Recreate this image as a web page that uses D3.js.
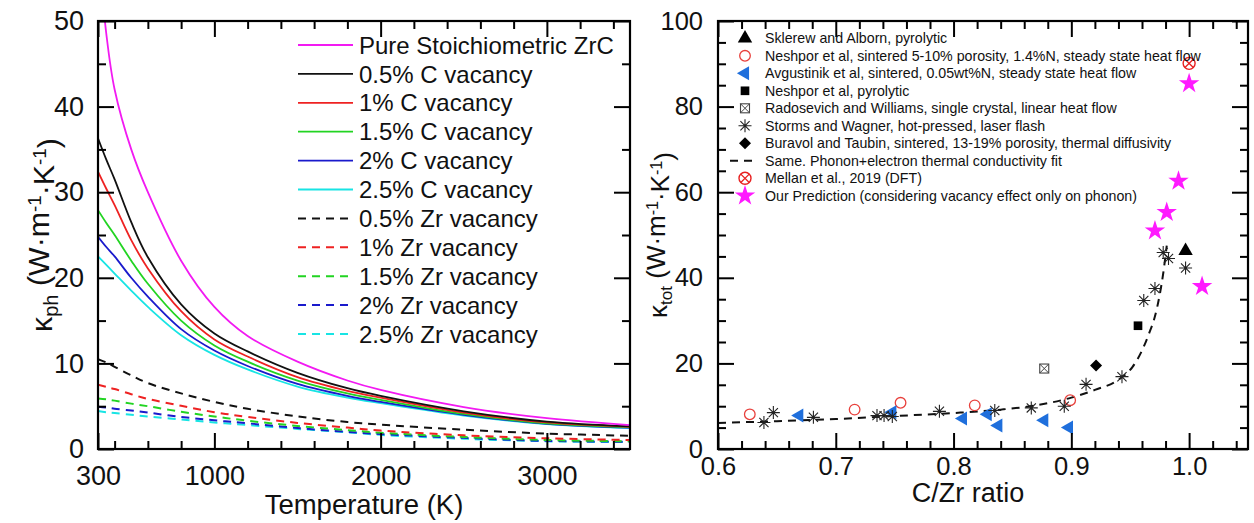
<!DOCTYPE html>
<html><head><meta charset="utf-8">
<script src="https://cdn.jsdelivr.net/npm/d3@7"></script>
<style>
body{margin:0;background:#fff;}
text{font-family:"Liberation Sans",Arial,Helvetica,sans-serif;fill:#111;}
</style></head>
<body>
<svg id="chart" width="1254" height="523"></svg>
<script>
// ---------- Left panel data ----------
const temps = [300,350,400,500,600,800,1000,1200,1500,1800,2000,2500,3000,3500];
const pureZrC = [59,48.5,42,35,30,22,16.6,13.2,10.2,8.0,6.9,4.9,3.6,2.8];
const cVac05 = [36.3,33.8,31.5,26.5,22.4,16.9,13.5,11.4,8.9,7.1,6.2,4.4,3.2,2.65];
const cVac10 = [32.4,30.4,28.5,24.4,21.1,16.1,12.8,10.8,8.4,6.8,6.0,4.25,3.1,2.6];
const cVac15 = [27.9,26.4,25.0,22.0,19.3,15.0,12.1,10.2,8.0,6.5,5.75,4.1,3.0,2.55];
const cVac20 = [24.8,23.6,22.5,20.0,17.8,14.0,11.5,9.7,7.6,6.2,5.5,4.0,2.95,2.5];
const cVac25 = [22.5,21.5,20.5,18.5,16.6,13.3,11.0,9.3,7.3,6.0,5.35,3.9,2.9,2.45];
const zrVac05 = [10.5,10.1,9.6,8.6,7.7,6.5,5.5,4.7,3.8,3.15,2.85,2.25,1.8,1.55];
const zrVac10 = [7.5,7.25,7.0,6.4,5.85,5.05,4.3,3.75,3.05,2.5,2.15,1.6,1.25,1.05];
const zrVac15 = [5.9,5.8,5.65,5.3,5.0,4.35,3.8,3.3,2.7,2.2,1.9,1.4,1.05,0.9];
const zrVac20 = [4.95,4.85,4.7,4.5,4.25,3.75,3.35,3.0,2.45,2.0,1.75,1.3,0.95,0.85];
const zrVac25 = [4.45,4.3,4.2,4.0,3.8,3.45,3.1,2.8,2.35,1.95,1.65,1.2,0.9,0.8];
const leftLabels = ["Pure Stoichiometric ZrC","0.5% C vacancy","1% C vacancy","1.5% C vacancy","2% C vacancy","2.5% C vacancy","0.5% Zr vacancy","1% Zr vacancy","1.5% Zr vacancy","2% Zr vacancy","2.5% Zr vacancy"];
const leftXTicks = [300,1000,2000,3000];
const leftYTicks = [0,10,20,30,40,50];

// ---------- Right panel data ----------
const sklerewX = [0.997], sklerewY = [46.3];
const neshporSintX = [0.627,0.716,0.755,0.818,0.899], neshporSintY = [8.1,9.2,10.8,10.2,11.4];
const avgustinikX = [0.669,0.748,0.808,0.829,0.838,0.877,0.898], avgustinikY = [7.8,8.6,7.1,8.1,5.5,6.7,5.0];
const neshporPyroX = [0.9566], neshporPyroY = [28.8];
const radosevichX = [0.877], radosevichY = [18.8];
const stormsX = [0.639,0.647,0.681,0.735,0.741,0.748,0.788,0.835,0.866,0.894,0.9125,0.943,0.9615,0.971,0.978,0.9825,0.997];
const stormsY = [6.2,8.5,7.4,7.8,7.8,7.6,8.8,9.0,9.6,10.0,15.1,16.9,34.7,37.5,45.9,44.5,42.3];
const buravolX = [0.921], buravolY = [19.5];
const fitX = [0.6,0.65,0.7,0.75,0.8,0.84,0.87,0.9,0.92,0.94,0.952,0.96,0.966,0.971,0.975,0.978,0.981];
const fitY = [6.1,6.5,7.0,7.7,8.4,9.2,10.2,12.0,13.8,16.2,19.2,23.0,27.0,31.0,36.0,41.0,47.5];
const mellanX = [1.0], mellanY = [90.1];
const oursX = [1.0,0.991,0.981,0.971,1.011], oursY = [85.4,62.6,55.3,51.0,38.0];
const rightLabels = ["Sklerew and Alborn, pyrolytic","Neshpor et al, sintered 5-10% porosity, 1.4%N, steady state heat flow","Avgustinik et al, sintered, 0.05wt%N, steady state heat flow","Neshpor et al, pyrolytic","Radosevich and Williams, single crystal, linear heat flow","Storms and Wagner, hot-pressed, laser flash","Buravol and Taubin, sintered, 13-19% porosity, thermal diffusivity","Same. Phonon+electron thermal conductivity fit","Mellan et al., 2019 (DFT)","Our Prediction (considering vacancy effect only on phonon)"];
const rightXTicks = [0.6,0.7,0.8,0.9,1.0];
const rightYTicks = [0,20,40,60,80,100];

// ---------- drawing ----------
const svg = d3.select("#chart");
svg.append("rect").attr("width",1254).attr("height",523).attr("fill","#fff");
const FONT = "Liberation Sans, Arial, sans-serif";

function frameAxes(x, y, xMajor, xMinor, yMajor, yMinor, xFmt, yFmt, fs, xPad, yPad) {
  const [x0,x1] = x.range(), [y0,y1] = y.range();
  const g = svg.append("g");
  const styleAx = s => { s.select(".domain").remove(); s.selectAll("line").attr("stroke","#000").attr("stroke-width",2); };
  const styleTx = s => s.selectAll("text").attr("font-size",fs).style("font-family",FONT).attr("fill","#111");
  g.append("g").attr("transform",`translate(0,${y0})`).call(d3.axisBottom(x).tickValues(xMajor).tickSize(-16).tickPadding(xPad).tickFormat(xFmt))
    .call(styleAx).call(styleTx);
  g.append("g").attr("transform",`translate(0,${y0})`).call(d3.axisBottom(x).tickValues(xMinor).tickSize(-8).tickFormat("")).call(styleAx);
  g.append("g").attr("transform",`translate(0,${y1})`).call(d3.axisTop(x).tickValues(xMajor).tickSize(-16).tickFormat("")).call(styleAx);
  g.append("g").attr("transform",`translate(0,${y1})`).call(d3.axisTop(x).tickValues(xMinor).tickSize(-8).tickFormat("")).call(styleAx);
  g.append("g").attr("transform",`translate(${x0},0)`).call(d3.axisLeft(y).tickValues(yMajor).tickSize(-16).tickPadding(yPad).tickFormat(yFmt))
    .call(styleAx).call(styleTx);
  g.append("g").attr("transform",`translate(${x0},0)`).call(d3.axisLeft(y).tickValues(yMinor).tickSize(-8).tickFormat("")).call(styleAx);
  g.append("g").attr("transform",`translate(${x1},0)`).call(d3.axisRight(y).tickValues(yMajor).tickSize(-16).tickFormat("")).call(styleAx);
  g.append("g").attr("transform",`translate(${x1},0)`).call(d3.axisRight(y).tickValues(yMinor).tickSize(-8).tickFormat("")).call(styleAx);
  g.append("rect").attr("x",x0).attr("y",y1).attr("width",x1-x0).attr("height",y0-y1)
    .attr("fill","none").attr("stroke","#000").attr("stroke-width",2.2);
}

function yTitle(x, sub, targetLen) {
  const t = svg.append("text").attr("transform",`translate(${x},235) rotate(-90)`).attr("text-anchor","middle").attr("font-size",26);
  t.append("tspan").text("κ");
  t.append("tspan").attr("font-size","0.66em").attr("dy","0.28em").text(sub);
  t.append("tspan").attr("dy","-0.28em").text("\u00A0(W·m");
  t.append("tspan").attr("font-size","0.62em").attr("dy","-0.42em").text("-1");
  t.append("tspan").attr("dy","0.42em").text("·K");
  t.append("tspan").attr("font-size","0.62em").attr("dy","-0.42em").text("-1");
  t.append("tspan").attr("dy","0.42em").text(")");
  const len = t.node().getComputedTextLength();
  if (len > 0) t.attr("font-size", 26 * targetLen / len);
}

// ----- Left panel -----
const xL = d3.scaleLinear().domain([300,3500]).range([98,630]);
const yL = d3.scaleLinear().domain([0,50]).range([449,21]);
svg.append("clipPath").attr("id","clipL").append("rect").attr("x",98).attr("y",21).attr("width",532).attr("height",428);

const leftSeries = [
  {v:pureZrC,c:"#f21af2",d:null},{v:cVac05,c:"#111",d:null},{v:cVac10,c:"#ee2222",d:null},
  {v:cVac15,c:"#22d422",d:null},{v:cVac20,c:"#1a1acc",d:null},{v:cVac25,c:"#18e4e4",d:null},
  {v:zrVac05,c:"#111",d:"8,6"},{v:zrVac10,c:"#ee2222",d:"8,6"},{v:zrVac15,c:"#22d422",d:"8,6"},
  {v:zrVac20,c:"#1a1acc",d:"8,6"},{v:zrVac25,c:"#18e4e4",d:"8,6"}
];
const lineL = d3.line().x(d=>xL(d[0])).y(d=>yL(d[1])).curve(d3.curveCatmullRom.alpha(0.5));
const gL = svg.append("g").attr("clip-path","url(#clipL)");
leftSeries.slice().reverse().forEach(s=>{
  gL.append("path").attr("d",lineL(temps.map((t,i)=>[t,s.v[i]])))
    .attr("fill","none").attr("stroke",s.c).attr("stroke-width",s.d?2:1.8).attr("stroke-dasharray",s.d);
});
const xMinorL = d3.range(400,3500,200).filter(v=>v%1000!==0);
const yMinorL = d3.range(5,50,10);
frameAxes(xL,yL,leftXTicks,xMinorL,leftYTicks,yMinorL,d3.format("d"),d3.format("d"),27,17,14);

const legL = svg.append("g");
leftLabels.forEach((lab,i)=>{
  const yy = 45 + i*28.9;
  legL.append("line").attr("x1",298).attr("x2",353).attr("y1",yy).attr("y2",yy)
    .attr("stroke",leftSeries[i].c).attr("stroke-width",leftSeries[i].d?2:1.8).attr("stroke-dasharray",leftSeries[i].d);
  legL.append("text").attr("x",359).attr("y",yy).attr("dy","0.36em").attr("font-size",24).text(lab);
});
svg.append("text").attr("x",364).attr("y",514).attr("text-anchor","middle").attr("font-size",27.5).text("Temperature (K)");
yTitle(52,"ph",194);

// ----- Right panel -----
const xR = d3.scaleLinear().domain([0.6,1.05]).range([718,1248]);
const yR = d3.scaleLinear().domain([0,100]).range([449,21]);
const xMinorR = d3.range(0.62,1.05,0.02).map(v=>+v.toFixed(2)).filter(v=>Math.abs(v*10-Math.round(v*10))>1e-6);
const yMinorR = d3.range(5,100,5).filter(v=>v%20!==0);
const gR = svg.append("g");

const lineR = d3.line().x(d=>xR(d[0])).y(d=>yR(d[1])).curve(d3.curveMonotoneX);
gR.append("path").attr("d",lineR(fitX.map((x,i)=>[x,fitY[i]]))).attr("fill","none")
  .attr("stroke","#111").attr("stroke-width",2).attr("stroke-dasharray","8,6");

const blue = "#1f6fdc", red = "#e8403c", mag = "#ff1aff";
const symTri = d3.symbol().type(d3.symbolTriangle).size(90)();
const symTriL = d3.symbol().type(d3.symbolTriangle).size(85)();
const symSq = d3.symbol().type(d3.symbolSquare).size(75)();
const symDia = d3.symbol().type(d3.symbolSquare).size(72)();
const symStar = d3.symbol().type(d3.symbolStar).size(130)();
const markers = {
  sklerew: (g)=>g.append("path").attr("d",symTri).attr("fill","#000"),
  neshporSint: (g)=>g.append("circle").attr("r",5.3).attr("fill","none").attr("stroke",red).attr("stroke-width",1.3),
  avgustinik: (g)=>g.append("path").attr("d",symTriL).attr("transform","rotate(-90)").attr("fill",blue),
  neshporPyro: (g)=>g.append("path").attr("d",symSq).attr("fill","#000"),
  radosevich: (g)=>{ g.append("rect").attr("x",-4.5).attr("y",-4.5).attr("width",9).attr("height",9).attr("fill","none").attr("stroke","#444").attr("stroke-width",1.1);
    g.append("path").attr("d","M-4.5,-4.5L4.5,4.5M4.5,-4.5L-4.5,4.5").attr("stroke","#444").attr("stroke-width",1);},
  storms: (g)=>g.append("path").attr("d","M0,-6.5V6.5M-6.5,0H6.5M-4.6,-4.6L4.6,4.6M4.6,-4.6L-4.6,4.6").attr("stroke","#222").attr("stroke-width",1.1).attr("fill","none"),
  buravol: (g)=>g.append("path").attr("d",symDia).attr("transform","rotate(45)").attr("fill","#000"),
  mellan: (g)=>{ g.append("circle").attr("r",6).attr("fill","none").attr("stroke","#e82020").attr("stroke-width",1.4);
    g.append("path").attr("d","M-4.2,-4.2L4.2,4.2M4.2,-4.2L-4.2,4.2").attr("stroke","#e82020").attr("stroke-width",1.3);},
  ours: (g)=>g.append("path").attr("d",symStar).attr("fill",mag)
};
function plotPts(xs, ys, key) {
  xs.forEach((x,i)=>{
    const g = gR.append("g").attr("transform",`translate(${xR(x)},${yR(ys[i])})`);
    markers[key](g);
  });
}
plotPts(neshporSintX,neshporSintY,"neshporSint");
plotPts(avgustinikX,avgustinikY,"avgustinik");
plotPts(stormsX,stormsY,"storms");
plotPts(sklerewX,sklerewY,"sklerew");
plotPts(neshporPyroX,neshporPyroY,"neshporPyro");
plotPts(radosevichX,radosevichY,"radosevich");
plotPts(buravolX,buravolY,"buravol");
plotPts(mellanX,mellanY,"mellan");
plotPts(oursX,oursY,"ours");

frameAxes(xR,yR,rightXTicks,xMinorR,rightYTicks,yMinorR,d3.format(".1f"),d3.format("d"),25.5,8,15);

const legKeys = ["sklerew","neshporSint","avgustinik","neshporPyro","radosevich","storms","buravol","fit","mellan","ours"];
const legR = svg.append("g");
rightLabels.forEach((lab,i)=>{
  const yy = 38.3 + i*17.5;
  if (legKeys[i]==="fit") {
    legR.append("line").attr("x1",730).attr("x2",756).attr("y1",yy).attr("y2",yy).attr("stroke","#111").attr("stroke-width",2).attr("stroke-dasharray","8,6");
  } else {
    markers[legKeys[i]](legR.append("g").attr("transform",`translate(745,${yy})`));
  }
  legR.append("text").attr("x",765).attr("y",yy).attr("dy","0.36em").attr("font-size",14.2).text(lab);
});
svg.append("text").attr("x",968).attr("y",502).attr("text-anchor","middle").attr("font-size",27).text("C/Zr ratio");
yTitle(667,"tot",166);
</script>
</body></html>
